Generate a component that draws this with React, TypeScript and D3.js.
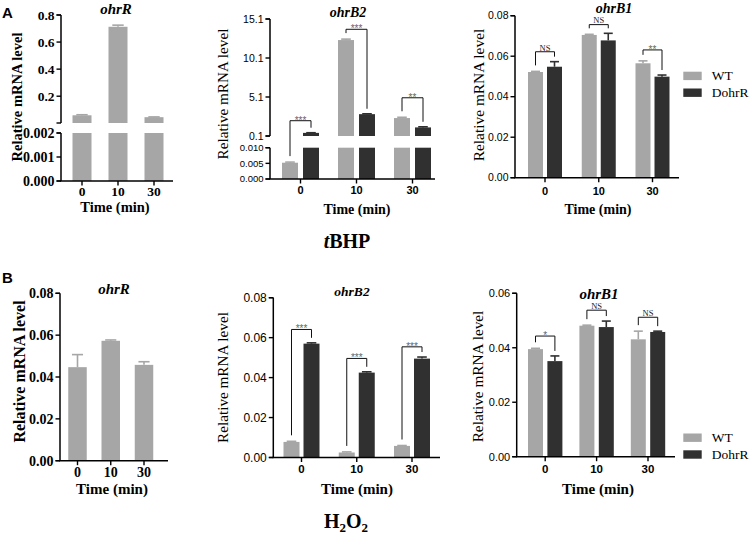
import React from "react";
import * as d3 from "d3";

// ---------- data ----------
const times = ["0", "10", "30"];
const strains = ["WT", "DohrR"];

// tBHP
const tbhpOhrR_WT = [0.059, 0.713, 0.045];
const tbhpOhrR_WT_err = [0.004, 0.012, 0.002];
const tbhpOhrB2_WT = [0.0052, 12.4, 2.4];
const tbhpOhrB2_WT_err = [0.0002, 0.12, 0.1];
const tbhpOhrB2_D = [0.5, 2.9, 1.2];
const tbhpOhrB2_D_err = [0.02, 0.05, 0.08];
const tbhpOhrB1_WT = [0.0522, 0.0705, 0.0565];
const tbhpOhrB1_WT_err = [0.0003, 0.0003, 0.0012];
const tbhpOhrB1_D = [0.0548, 0.0678, 0.0499];
const tbhpOhrB1_D_err = [0.0025, 0.0035, 0.0008];

// H2O2
const h2o2OhrR_WT = [0.0447, 0.0573, 0.0458];
const h2o2OhrR_WT_err = [0.006, 0.0004, 0.0015];
const h2o2OhrB2_WT = [0.0078, 0.0025, 0.0058];
const h2o2OhrB2_WT_err = [0.0003, 0.0003, 0.0002];
const h2o2OhrB2_D = [0.057, 0.0425, 0.0495];
const h2o2OhrB2_D_err = [0.0004, 0.0004, 0.0008];
const h2o2OhrB1_WT = [0.0395, 0.0481, 0.0431];
const h2o2OhrB1_WT_err = [0.0003, 0.0002, 0.003];
const h2o2OhrB1_D = [0.0351, 0.0476, 0.0458];
const h2o2OhrB1_D_err = [0.0019, 0.0022, 0.0003];

// significance labels and bracket heights (data units)
const tbhpOhrB2_sig = ["***", "***", "**"];
const tbhpOhrB2_sigAt = [2.06, 13.78, 5.0];
const tbhpOhrB1_sig = ["NS", "NS", "**"];
const tbhpOhrB1_sigAt = [0.0622, 0.0756, 0.0631];
const h2o2OhrB2_sig = ["***", "***", "***"];
const h2o2OhrB2_sigAt = [0.0641, 0.0496, 0.0554];
const h2o2OhrB1_sig = ["*", "NS", "NS"];
const h2o2OhrB1_sigAt = [0.0443, 0.0538, 0.0512];

// y tick values
const ticksR_A_low = [0, 0.001, 0.002];
const ticksR_A_high = [0.2, 0.4, 0.6, 0.8];
const ticksB2_A_low = [0, 0.005, 0.01];
const ticksB2_A_high = [0.1, 5.1, 10.1, 15.1];
const ticks008 = [0, 0.02, 0.04, 0.06, 0.08];
const ticks006 = [0, 0.02, 0.04, 0.06];

// ---------- style ----------
const COLOR: Record<string, string> = { WT: "#a6a6a6", DohrR: "#303030" };
const SERIF = "'Liberation Serif','Times New Roman',Times,serif";
const SANS = "'Liberation Sans',Arial,Helvetica,sans-serif";

type Seg = {
  domain: [number, number];
  range: [number, number];
  ticks: number[];
  fmt: (v: number) => string;
  size: number;
  weight: number;
  family: string;
};

type Series = { name: string; values: number[]; errs: number[] };

type Cfg = {
  axisX: number;
  xEnd: number;
  segs: Seg[];
  centers: [number, number];
  barW: number;
  offset: number;
  series: Series[];
  sig?: string[];
  sigAt?: number[];
  xTick: { family: string; size: number; weight: number; y: number };
  title: { text: string; x: number; y: number; size: number };
  ylabel: { x: number; y: number; size: number; weight: number };
  xlabel: { x: number; y: number; size: number };
};

function Panel({ cfg }: { cfg: Cfg }) {
  const segs = cfg.segs.map((s) => ({
    ...s,
    scale: d3.scaleLinear().domain(s.domain).range(s.range),
  }));
  const segFor = (v: number) =>
    segs.length === 1 ? segs[0] : v <= segs[0].domain[1] ? segs[0] : segs[1];
  const y = (v: number) => segFor(v).scale(Math.min(v, segFor(v).domain[1]));
  const x = d3.scalePoint<string>().domain(times).range(cfg.centers);
  const n = cfg.series.length;
  const off = (k: number) => (n === 1 ? 0 : k === 0 ? -cfg.offset : cfg.offset);
  const xAxisY = segs[0].range[0];
  const els: React.ReactNode[] = [];

  // bars
  cfg.series.forEach((s, k) => {
    s.values.forEach((v, i) => {
      const cx = (x(times[i]) as number) + off(k);
      segs.forEach((sg, j) => {
        if (v > sg.domain[0]) {
          const top = sg.scale(Math.min(v, sg.domain[1]));
          const bot = sg.range[0];
          els.push(
            <rect key={`b${k}-${i}-${j}`} x={cx - cfg.barW / 2} y={top} width={cfg.barW}
              height={Math.max(0, bot - top)} fill={COLOR[s.name]} />
          );
        }
      });
      // error bar
      const sg = segFor(v);
      const y1 = sg.scale(v);
      const y2 = sg.scale(Math.min(v + s.errs[i], sg.domain[1]));
      const cw = cfg.barW * 0.6;
      els.push(
        <g key={`e${k}-${i}`} stroke={COLOR[s.name]} strokeWidth={1.6}>
          <line x1={cx} x2={cx} y1={y1} y2={y2} />
          <line x1={cx - cw / 2} x2={cx + cw / 2} y1={y2} y2={y2} />
        </g>
      );
    });
  });

  // brackets
  if (cfg.sig && cfg.sigAt && n === 2) {
    cfg.sig.forEach((lab, i) => {
      const c = x(times[i]) as number;
      const xl = c + off(0);
      const xr = c + off(1);
      const yb = y(cfg.sigAt![i]);
      const a = cfg.series[0], b = cfg.series[1];
      const yl = y(a.values[i] + a.errs[i]) - 6;
      const yr = y(b.values[i] + b.errs[i]) - 5;
      els.push(
        <g key={`s${i}`}>
          <path d={`M${xl},${yl}V${yb}H${xr}V${yr}`} fill="none" stroke="#111" strokeWidth={1} />
          {lab === "NS" ? (
            <text x={(xl + xr) / 2} y={yb - 1.2} textAnchor="middle" fontFamily={SERIF}
              fontSize={8.5} fill="#222">NS</text>
          ) : (
            <text x={(xl + xr) / 2} y={yb + 3} textAnchor="middle" fontFamily={SANS}
              fontSize={10} fill="#666">{lab}</text>
          )}
        </g>
      );
    });
  }

  // axes
  const axis: React.ReactNode[] = [];
  segs.forEach((sg, j) => {
    axis.push(
      <line key={`ya${j}`} x1={cfg.axisX} x2={cfg.axisX} y1={sg.range[0]} y2={sg.range[1]}
        stroke="#000" strokeWidth={1.5} />
    );
    const tickYs = [...sg.ticks.map((t) => sg.scale(t)), sg.range[0], sg.range[1]];
    tickYs.forEach((ty, q) =>
      axis.push(
        <line key={`yt${j}-${q}`} x1={cfg.axisX - 4.5} x2={cfg.axisX} y1={ty} y2={ty}
          stroke="#000" strokeWidth={1.4} />
      )
    );
    sg.ticks.forEach((t, q) =>
      axis.push(
        <text key={`yl${j}-${q}`} x={cfg.axisX - 6.5} y={sg.scale(t)} dy="0.35em" textAnchor="end"
          fontFamily={sg.family} fontSize={sg.size} fontWeight={sg.weight}>
          {sg.fmt(t)}
        </text>
      )
    );
  });
  axis.push(
    <line key="xa" x1={cfg.axisX - 0.75} x2={cfg.xEnd} y1={xAxisY} y2={xAxisY} stroke="#000" strokeWidth={1.5} />
  );
  times.forEach((t) => {
    const cx = x(t) as number;
    axis.push(
      <line key={`xt${t}`} x1={cx} x2={cx} y1={xAxisY} y2={xAxisY + 4.5} stroke="#000" strokeWidth={1.4} />
    );
    axis.push(
      <text key={`xl${t}`} x={cx} y={cfg.xTick.y} textAnchor="middle" fontFamily={cfg.xTick.family}
        fontSize={cfg.xTick.size} fontWeight={cfg.xTick.weight}>{t}</text>
    );
  });

  return (
    <g>
      {els}
      {axis}
      <text x={cfg.title.x} y={cfg.title.y} textAnchor="middle" fontFamily={SERIF}
        fontStyle="italic" fontWeight={700} fontSize={cfg.title.size}>{cfg.title.text}</text>
      <text transform={`translate(${cfg.ylabel.x},${cfg.ylabel.y}) rotate(-90)`} textAnchor="middle"
        fontFamily={SERIF} fontWeight={cfg.ylabel.weight} fontSize={cfg.ylabel.size}>Relative mRNA level</text>
      <text x={cfg.xlabel.x} y={cfg.xlabel.y} textAnchor="middle" fontFamily={SERIF} fontWeight={700}
        fontSize={cfg.xlabel.size}>Time (min)</text>
    </g>
  );
}

const f1 = d3.format(".1f");
const f2 = d3.format(".2f");
const f3 = d3.format(".3f");

const panels: Cfg[] = [
  {
    axisX: 61, xEnd: 173,
    segs: [
      { domain: [0, 0.002], range: [181, 133], ticks: ticksR_A_low, fmt: f3, size: 14, weight: 700, family: SERIF },
      { domain: [0.002, 0.8], range: [123, 15], ticks: ticksR_A_high, fmt: f1, size: 13.5, weight: 700, family: SERIF },
    ],
    centers: [82, 154], barW: 19, offset: 0,
    series: [{ name: "WT", values: tbhpOhrR_WT, errs: tbhpOhrR_WT_err }],
    xTick: { family: SERIF, size: 13.5, weight: 700, y: 196 },
    title: { text: "ohrR", x: 116, y: 14, size: 15 },
    ylabel: { x: 22, y: 97, size: 14.5, weight: 700 },
    xlabel: { x: 115, y: 212, size: 14.5 },
  },
  {
    axisX: 270, xEnd: 435,
    segs: [
      { domain: [0, 0.01], range: [179, 147.7], ticks: ticksB2_A_low, fmt: f3, size: 9.5, weight: 400, family: SANS },
      { domain: [0.1, 15.1], range: [136, 19], ticks: ticksB2_A_high, fmt: f1, size: 10.5, weight: 400, family: SANS },
    ],
    centers: [300.5, 412.5], barW: 16, offset: 10.5,
    series: [
      { name: "WT", values: tbhpOhrB2_WT, errs: tbhpOhrB2_WT_err },
      { name: "DohrR", values: tbhpOhrB2_D, errs: tbhpOhrB2_D_err },
    ],
    sig: tbhpOhrB2_sig, sigAt: tbhpOhrB2_sigAt,
    xTick: { family: SANS, size: 11, weight: 700, y: 194 },
    title: { text: "ohrB2", x: 348, y: 17, size: 14 },
    ylabel: { x: 228, y: 94, size: 15.2, weight: 400 },
    xlabel: { x: 357, y: 214, size: 14 },
  },
  {
    axisX: 515, xEnd: 679,
    segs: [{ domain: [0, 0.08], range: [177.7, 15.7], ticks: ticks008, fmt: f2, size: 10.5, weight: 400, family: SANS }],
    centers: [545, 652.5], barW: 15, offset: 9.5,
    series: [
      { name: "WT", values: tbhpOhrB1_WT, errs: tbhpOhrB1_WT_err },
      { name: "DohrR", values: tbhpOhrB1_D, errs: tbhpOhrB1_D_err },
    ],
    sig: tbhpOhrB1_sig, sigAt: tbhpOhrB1_sigAt,
    xTick: { family: SANS, size: 11, weight: 700, y: 195 },
    title: { text: "ohrB1", x: 614, y: 12.5, size: 14 },
    ylabel: { x: 484, y: 95, size: 15.4, weight: 400 },
    xlabel: { x: 598, y: 214, size: 14 },
  },
  {
    axisX: 60, xEnd: 168,
    segs: [{ domain: [0, 0.08], range: [460.7, 293.3], ticks: ticks008, fmt: f2, size: 14, weight: 700, family: SERIF }],
    centers: [77.5, 144], barW: 18.5, offset: 0,
    series: [{ name: "WT", values: h2o2OhrR_WT, errs: h2o2OhrR_WT_err }],
    xTick: { family: SERIF, size: 14, weight: 700, y: 477 },
    title: { text: "ohrR", x: 114, y: 294, size: 15 },
    ylabel: { x: 25, y: 371.5, size: 16, weight: 700 },
    xlabel: { x: 112, y: 494, size: 15 },
  },
  {
    axisX: 273.3, xEnd: 440,
    segs: [{ domain: [0, 0.08], range: [457.5, 297.7], ticks: ticks008, fmt: f2, size: 12, weight: 400, family: SANS }],
    centers: [301.5, 412], barW: 16, offset: 10,
    series: [
      { name: "WT", values: h2o2OhrB2_WT, errs: h2o2OhrB2_WT_err },
      { name: "DohrR", values: h2o2OhrB2_D, errs: h2o2OhrB2_D_err },
    ],
    sig: h2o2OhrB2_sig, sigAt: h2o2OhrB2_sigAt,
    xTick: { family: SANS, size: 11.5, weight: 700, y: 473 },
    title: { text: "ohrB2", x: 352, y: 296, size: 13.5 },
    ylabel: { x: 228, y: 377.5, size: 15.2, weight: 400 },
    xlabel: { x: 357, y: 494, size: 15 },
  },
  {
    axisX: 516.7, xEnd: 675,
    segs: [{ domain: [0, 0.06], range: [456.7, 293.3], ticks: ticks006, fmt: f2, size: 11, weight: 400, family: SANS }],
    centers: [545.2, 648], barW: 15, offset: 9.7,
    series: [
      { name: "WT", values: h2o2OhrB1_WT, errs: h2o2OhrB1_WT_err },
      { name: "DohrR", values: h2o2OhrB1_D, errs: h2o2OhrB1_D_err },
    ],
    sig: h2o2OhrB1_sig, sigAt: h2o2OhrB1_sigAt,
    xTick: { family: SANS, size: 11.5, weight: 700, y: 472.5 },
    title: { text: "ohrB1", x: 599, y: 299, size: 15 },
    ylabel: { x: 483, y: 376.5, size: 15.3, weight: 400 },
    xlabel: { x: 598, y: 494, size: 15 },
  },
];

function Legend({ x, y }: { x: number; y: number }) {
  return (
    <g>
      {strains.map((s, i) => (
        <g key={s}>
          <rect x={x} y={y + i * 16.8} width={18.4} height={8.4} fill={COLOR[s]} />
          <text x={x + 28.4} y={y + i * 16.8 + 8.6} fontFamily={SERIF} fontSize={13.5}>{s}</text>
        </g>
      ))}
    </g>
  );
}

export default function App() {
  return (
    <svg width={751} height={537} style={{ position: "absolute", left: 0, top: 0, background: "#fff" }}>
      <rect width={751} height={537} fill="#fff" />
      <text x={2} y={18} fontFamily={SANS} fontWeight={700} fontSize={15}>A</text>
      <text x={2} y={283} fontFamily={SANS} fontWeight={700} fontSize={15}>B</text>
      {panels.map((p, i) => (
        <Panel key={i} cfg={p} />
      ))}
      <Legend x={683.3} y={71.7} />
      <Legend x={683.3} y={433.5} />
      <text x={347} y={248} textAnchor="middle" fontFamily={SERIF} fontWeight={700} fontSize={20}>
        <tspan fontStyle="italic">t</tspan>BHP
      </text>
      <text x={346} y={528} textAnchor="middle" fontFamily={SERIF} fontWeight={700} fontSize={20}>
        H<tspan fontSize={13} dy={4}>2</tspan><tspan dy={-4}>O</tspan><tspan fontSize={13} dy={4}>2</tspan>
      </text>
    </svg>
  );
}
